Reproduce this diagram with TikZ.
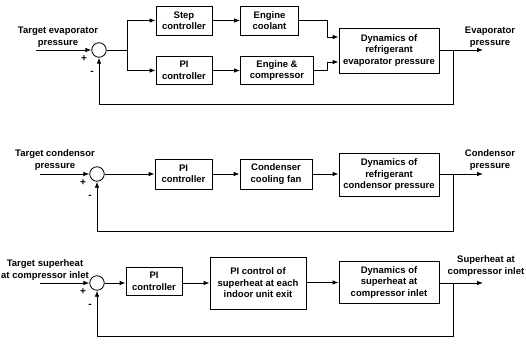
\documentclass[tikz,border=0pt]{standalone}
\usepackage{fontspec}
\setmainfont{Liberation Sans}
\usetikzlibrary{arrows.meta}
\begin{document}
\begin{tikzpicture}[x=1pt,y=-1pt,
  font=\fontsize{9.5}{11.5}\selectfont\bfseries,
  every path/.style={line width=0.8pt},
  blk/.style={draw,align=center,inner sep=0pt},
  sumnode/.style={draw,circle,minimum size=14.5pt,inner sep=0pt},
  lbl/.style={align=center,inner sep=0pt},
  sgn/.style={inner sep=0pt,font=\fontsize{10}{10}\selectfont\bfseries},
  arr/.style={-{Latex[length=6pt,width=4.5pt]}}]
\useasboundingbox (0,0) rectangle (526,347);

% ---------------- diagram 1 ----------------
\node[lbl] (tgt1) at (58,37) {Target evaporator\\pressure};
\coordinate (in1) at (36,50);
\node[sumnode] (sum1) at (99,50) {};
\node[sgn] (p1) at (84,59) {+};
\node[sgn] (m1) at (92,73) {-};
\coordinate (j1) at (127,50);
\node[blk,minimum width=56pt,minimum height=29pt] (step) at (184,20.5) {Step\\controller};
\node[blk,minimum width=56pt,minimum height=28pt] (pi1) at (184,70.5) {PI\\controller};
\node[blk,minimum width=58pt,minimum height=29pt] (cool) at (269.5,20.5) {Engine\\coolant};
\node[blk,minimum width=73pt,minimum height=28pt] (engc) at (277,70.5) {Engine \&\\compressor};
\node[blk,minimum width=100pt,minimum height=45pt] (dyn1) at (389,50.5) {Dynamics of\\refrigerant\\evaporator pressure};
\coordinate (k1) at (327,37);
\coordinate (k2) at (327,62);
\coordinate (out1) at (483,50);
\coordinate (fb1) at (453,104);
\node[lbl] (o1t) at (490,37) {Evaporator\\pressure};

\draw[arr] (in1) -- (sum1.west);
\draw (sum1.east) -- (j1);
\draw[arr] (j1) |- (step.west);
\draw[arr] (j1) |- (pi1.west);
\draw[arr] (step.east) -- (cool.west);
\draw[arr] (pi1.east) -- (engc.west);
\draw[arr] (cool.east) -| (k1) -- (k1 -| dyn1.west);
\draw[arr] (engc.east) -| (k2) -- (k2 -| dyn1.west);
\draw[arr] (dyn1.east |- out1) -- (out1);
\draw[arr] (fb1 |- out1) -- (fb1) -| (sum1.south);

% ---------------- diagram 2 ----------------
\node[lbl] (tgt2) at (55,160) {Target condensor\\pressure};
\coordinate (in2) at (40,174);
\node[sumnode] (sum2) at (97,174) {};
\node[sgn] (p2) at (83,183) {+};
\node[sgn] (m2) at (90,197) {-};
\node[blk,minimum width=57pt,minimum height=30pt] (pi2) at (183.5,174) {PI\\controller};
\node[blk,minimum width=72pt,minimum height=30pt] (fan) at (276,174) {Condenser\\cooling fan};
\node[blk,minimum width=100pt,minimum height=43pt] (dyn2) at (389,175) {Dynamics of\\refrigerant\\condensor pressure};
\coordinate (out2) at (483,174);
\coordinate (fb2) at (453,231);
\node[lbl] (o2t) at (490,160) {Condensor\\pressure};

\draw[arr] (in2) -- (sum2.west);
\draw[arr] (sum2.east) -- (sum2.east -| pi2.west);
\draw[arr] (pi2.east) -- (fan.west);
\draw[arr] (fan.east) -- (fan.east -| dyn2.west);
\draw[arr] (dyn2.east |- out2) -- (out2);
\draw[arr] (fb2 |- out2) -- (fb2) -| (sum2.south);

% ---------------- diagram 3 ----------------
\node[lbl] (tgt3) at (45,270) {Target superheat\\at compressor inlet};
\coordinate (in3) at (40,283);
\node[sumnode] (sum3) at (97,283) {};
\node[sgn] (p3) at (83,292) {+};
\node[sgn] (m3) at (90,306) {-};
\node[blk,minimum width=56pt,minimum height=28pt] (pi3) at (154,281.5) {PI\\controller};
\node[blk,minimum width=96pt,minimum height=52pt] (pic) at (258,283) {PI control of\\superheat at each\\indoor unit exit};
\node[blk,minimum width=100pt,minimum height=42pt] (dyn3) at (389,282.5) {Dynamics of\\superheat at\\compressor inlet};
\coordinate (out3) at (483,283);
\coordinate (fb3) at (453,336);
\node[lbl] (o3t) at (486,266) {Superheat at\\compressor inlet};

\draw[arr] (in3) -- (sum3.west);
\draw[arr] (sum3.east) -- (sum3.east -| pi3.west);
\draw[arr] (pi3.east |- sum3.east) -- (pi3.east |- sum3.east -| pic.west);
\draw[arr] (pic.east |- dyn3.west) -- (dyn3.west);
\draw[arr] (dyn3.east |- out3) -- (out3);
\draw[arr] (fb3 |- out3) -- (fb3) -| (sum3.south);
\end{tikzpicture}
\end{document}
